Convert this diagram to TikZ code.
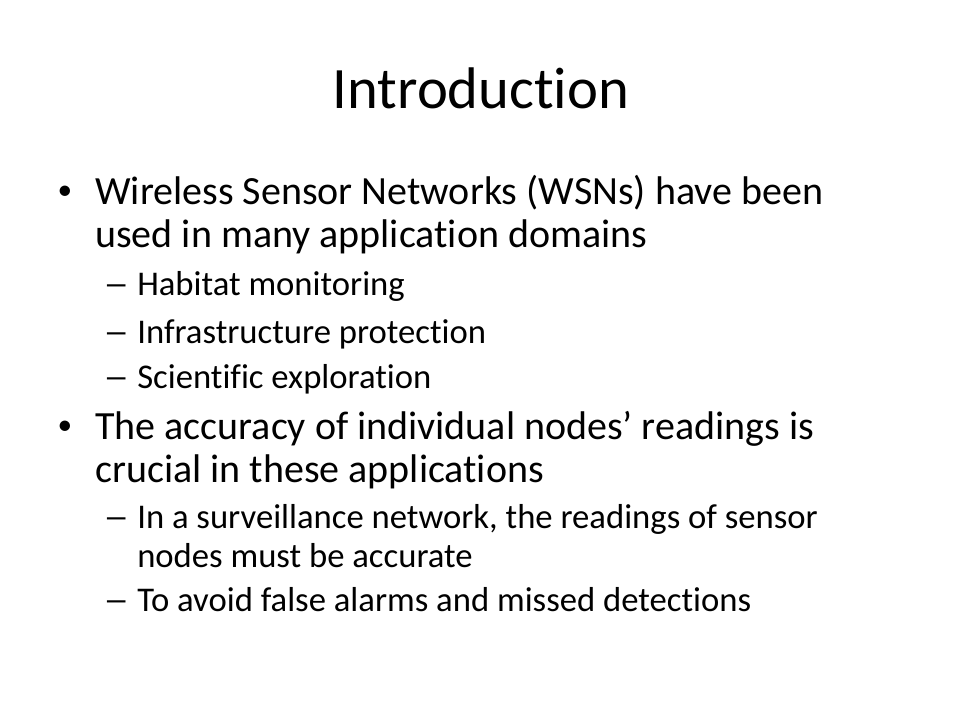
\documentclass[tikz,border=0pt]{standalone}
\usepackage{fontspec}
\setmainfont{Carlito}[RawFeature={-liga;-clig;-dlig;-calt}]
\usepackage{graphicx}
\usepackage{tikz}
\tikzset{
    slidetitle/.style={anchor=base, inner sep=0pt, font=\fontsize{44}{50}\selectfont},
    bodytext/.style={anchor=base west, inner sep=0pt, font=\fontsize{30}{34}\selectfont},
    subtext/.style={anchor=base west, inner sep=0pt, font=\fontsize{26}{30}\selectfont},
    bulletmark/.style={anchor=base, inner sep=0pt, font=\fontsize{22}{26}\selectfont}
}
% a bullet point with its first line of text
\newcommand{\bulletline}[3]{
    \node[bulletmark] (#1mark) at (65,#2-5) {\textbullet};
    \node[bodytext] (#1) at (95,#2) {#3};
}
% a dash item with its first line of text
\newcommand{\dashline}[3]{
    \node[subtext] (#1mark) at (103,#2) {\scalebox{1.5}[1]{\textendash}};
    \node[subtext] (#1) at (137,#2) {#3};
}
\begin{document}
\begin{tikzpicture}[x=0.75pt, y=-0.75pt]
        \useasboundingbox (0,0) rectangle (960,720);

        % title
        \node[slidetitle] (title) at (481,109) {Introduction};

        % first bullet
        \bulletline{wsn}{205}{Wireless Sensor Networks (WSNs) have been}
        \node[bodytext] (wsntwo) at (95,248) {used in many application domains};
        \dashline{habitat}{296}{Habitat monitoring}
        \dashline{infra}{343}{Infrastructure protection}
        \dashline{science}{388}{Scientific exploration}

        % second bullet
        \bulletline{accuracy}{439}{The accuracy of individual nodes’ readings is}
        \node[bodytext] (accuracytwo) at (95,482) {crucial in these applications};
        \dashline{surveil}{528}{In a surveillance network, the readings of sensor}
        \node[subtext] (surveiltwo) at (137,567) {nodes must be accurate};
        \dashline{alarms}{611}{To avoid false alarms and missed detections}

\end{tikzpicture}
\end{document}
